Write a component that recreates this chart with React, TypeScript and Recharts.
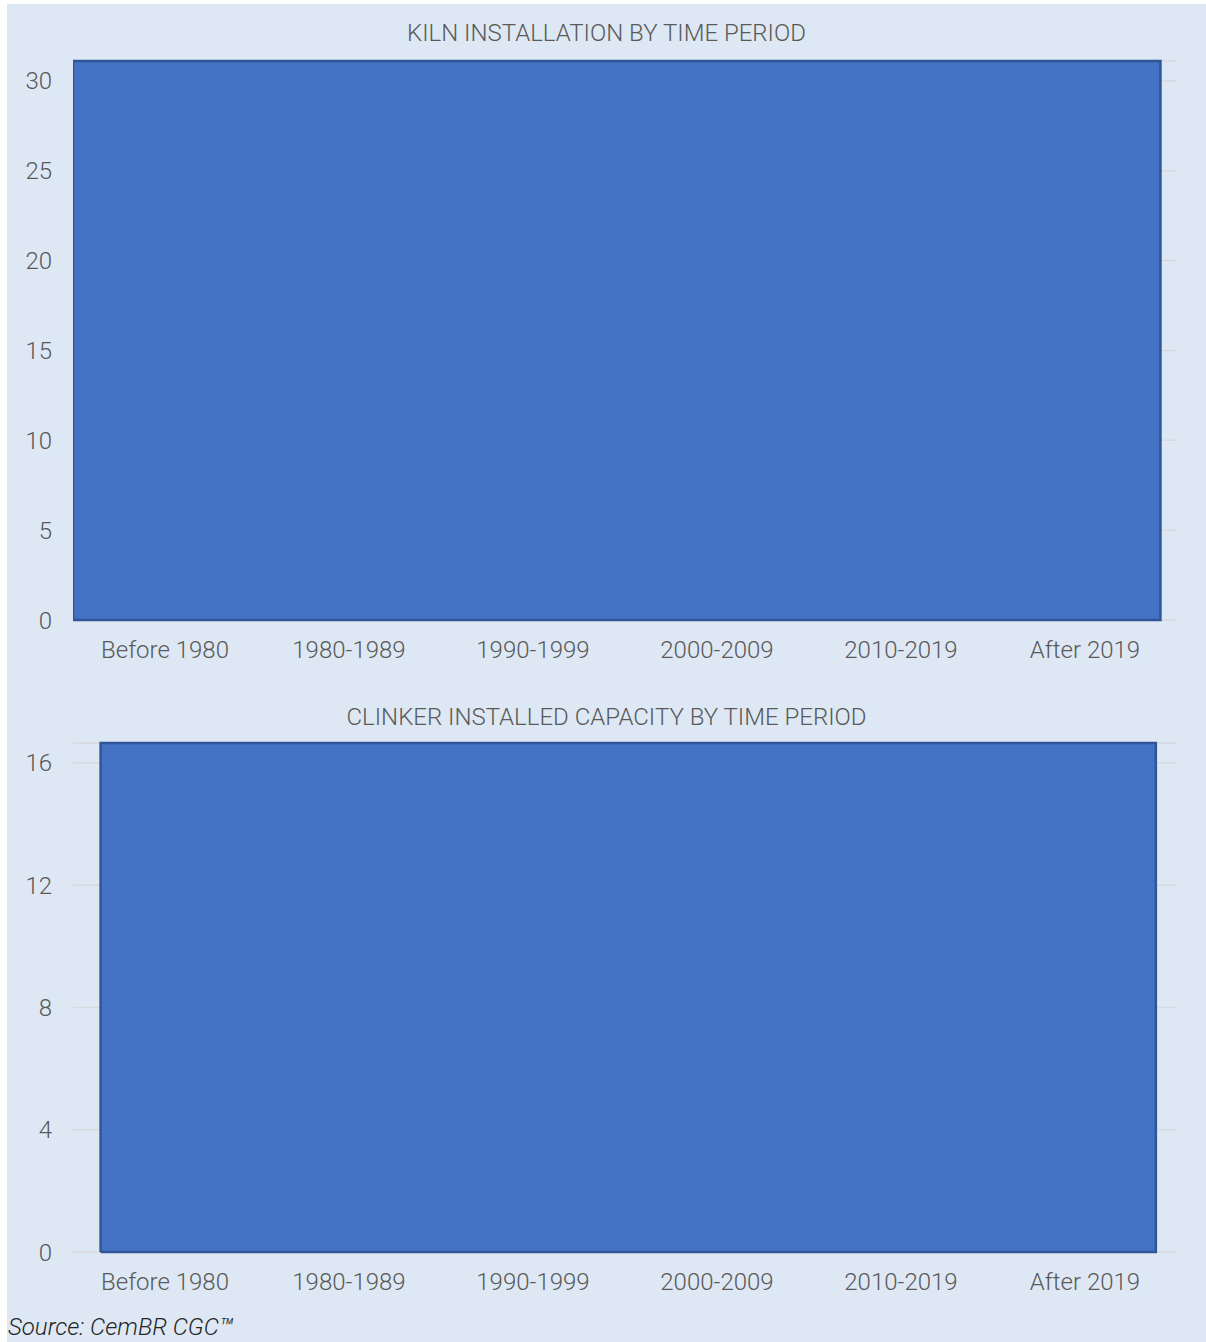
import { ComposedChart, Area, XAxis, YAxis, CartesianGrid } from "recharts"

const periods = ["Before 1980", "1980-1989", "1990-1999", "2000-2009", "2010-2019", "After 2019"]

// kiln count block, spans in category units on the x axis
const kilnSpan = [0, 5.91]
const kilnCount = 31.1
const kilnTicks = [0, 5, 10, 15, 20, 25, 30]

// clinker capacity block
const clinkerSpan = [0.15, 5.885]
const clinkerCapacity = 16.65
const clinkerTicks = [0, 4, 8, 12, 16]

const periodTicks = periods.map((_, i) => i + 0.5)

const outline = (span: number[], value: number) => [
  { x: span[0], v: 0 },
  { x: span[0], v: value },
  { x: span[1], v: value },
  { x: span[1], v: 0 },
  { x: span[0], v: 0 },
]

const FONT = "Roboto, 'Noto Sans', sans-serif"
const tick = { fontSize: 24, fill: "#595959", fontWeight: 300, fontFamily: FONT }

function Block({
  data,
  ticks,
  height,
  top,
}: {
  data: { x: number; v: number }[]
  ticks: number[]
  height: number
  top: number
}) {
  return (
    <ComposedChart
      width={1199}
      height={height}
      data={data}
      margin={{ top, right: 29, bottom: 4, left: 0 }}
    >
      <CartesianGrid vertical={false} stroke="#d6d9dd" strokeWidth={1.5} />
      <XAxis
        dataKey="x"
        type="number"
        domain={[0, 6]}
        ticks={periodTicks}
        interval={0}
        allowDataOverflow
        tickFormatter={(v: number) => periods[Math.floor(v)]}
        axisLine={false}
        tickLine={false}
        tickSize={0}
        tickMargin={21}
        height={40}
        tick={tick}
      />
      <YAxis
        domain={[0, "dataMax"]}
        ticks={ticks}
        interval={0}
        axisLine={false}
        tickLine={false}
        tickSize={0}
        tickMargin={21}
        width={66}
        tick={tick}
      />
      <Area
        dataKey="v"
        type="linear"
        fill="#4472c4"
        fillOpacity={1}
        stroke="#2f5597"
        strokeWidth={2.5}
        strokeLinejoin="miter"
        isAnimationActive={false}
      />
    </ComposedChart>
  )
}

const titleStyle = {
  position: "absolute" as const,
  left: 0,
  width: 1199,
  textAlign: "center" as const,
  fontFamily: FONT,
  fontWeight: 300,
  fontSize: 24,
  lineHeight: "28px",
  color: "#595959",
}

export default function App() {
  return (
    <div
      style={{
        position: "absolute",
        left: 7,
        top: 4,
        width: 1199,
        height: 1338,
        background: "#dde8f4",
      }}
    >
      <div style={{ ...titleStyle, top: 15 }}>KILN INSTALLATION BY TIME PERIOD</div>
      <div style={{ position: "absolute", left: 0, top: 0 }}>
        <Block data={outline(kilnSpan, kilnCount)} ticks={kilnTicks} height={660} top={57} />
      </div>
      <div style={{ ...titleStyle, top: 699 }}>CLINKER INSTALLED CAPACITY BY TIME PERIOD</div>
      <div style={{ position: "absolute", left: 0, top: 680 }}>
        <Block
          data={outline(clinkerSpan, clinkerCapacity)}
          ticks={clinkerTicks}
          height={612}
          top={59}
        />
      </div>
      <div
        style={{
          position: "absolute",
          left: 1,
          top: 1309,
          fontFamily: FONT,
          fontStyle: "italic",
          fontWeight: 300,
          fontSize: 24,
          lineHeight: "28px",
          color: "#262626",
        }}
      >
        Source: CemBR CGC™
      </div>
    </div>
  )
}
